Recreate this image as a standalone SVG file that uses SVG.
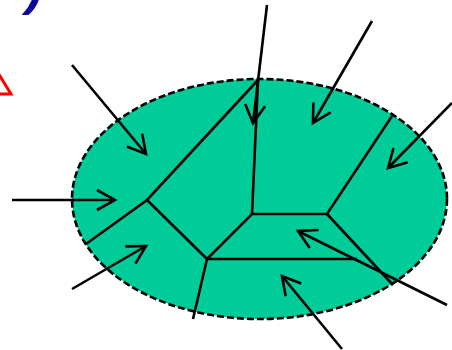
<svg xmlns="http://www.w3.org/2000/svg" width="452" height="350" viewBox="0 0 452 350">
<style>
.edge{stroke:#000;stroke-width:2.6;fill:none;stroke-linecap:butt}
.arr{stroke:#000;stroke-width:2.6;fill:none;marker-end:url(#ah)}
</style>
<defs>
<marker id="ah" markerUnits="userSpaceOnUse" markerWidth="30" markerHeight="30" viewBox="-24 -15 30 30" refX="0" refY="0" orient="auto">
<path d="M-18,-10 L0,0 L-18,10" fill="none" stroke="#000" stroke-width="2.6"/>
</marker>
</defs>
<rect width="452" height="350" fill="#fff"/>
<text x="26" y="5" font-family="Liberation Sans, sans-serif" font-size="50" font-weight="bold" font-style="italic" fill="#0a0aa0">)</text>
<polygon points="-10,60 11,94 -10,94" fill="#fff" stroke="#ff0000" stroke-width="3"/>
<g id="region">
<ellipse cx="259.5" cy="199" rx="187.5" ry="120" fill="#00cc99" stroke="#000" stroke-width="2.6" stroke-dasharray="7,3"/>
</g>
<g id="cells">
<path class="edge" d="M258,80 L147,200 L86,244"/>
<path class="edge" d="M147,200 L207,259 L193,319"/>
<path class="edge" d="M207,259 L252,214 L327,214 L392,116"/>
<path class="edge" d="M258,80 L252,214"/>
<path class="edge" d="M327,214 L393,285"/>
<path class="edge" d="M207,259 L357,259"/>
</g>
<g id="connectors">
<line class="arr" x1="72" y1="65" x2="146" y2="154"/>
<line class="arr" x1="267" y1="5" x2="253" y2="123"/>
<line class="arr" x1="372" y1="21" x2="313" y2="123"/>
<line class="arr" x1="452" y1="103" x2="388" y2="168"/>
<line class="arr" x1="12" y1="200" x2="115" y2="200"/>
<line class="arr" x1="72" y1="289" x2="146" y2="246"/>
<line class="arr" x1="342" y1="349" x2="282" y2="276"/>
<line class="arr" x1="447" y1="305" x2="298" y2="231"/>
</g>
</svg>
